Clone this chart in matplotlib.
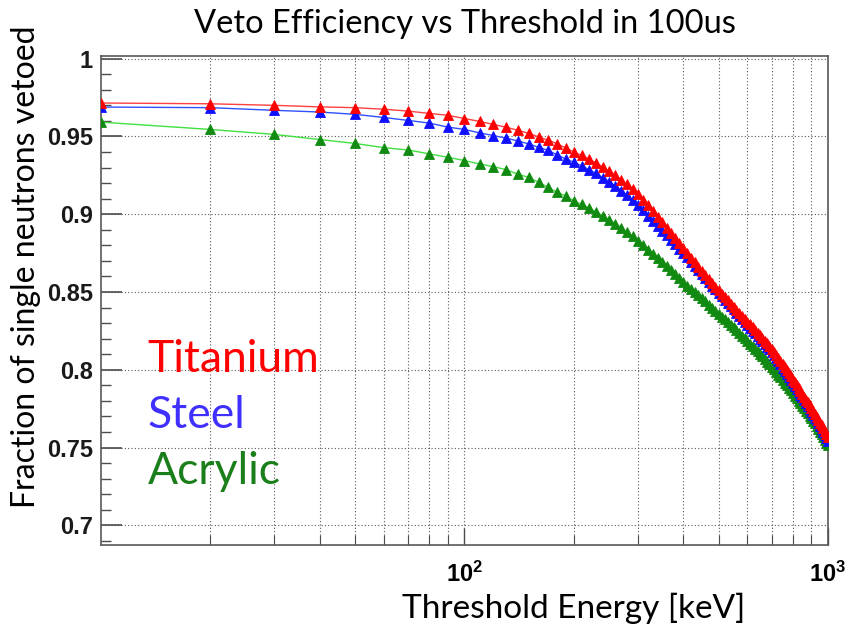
import matplotlib
matplotlib.use("Agg")
import matplotlib.pyplot as plt
from matplotlib.ticker import FixedLocator, MultipleLocator, NullFormatter, LogLocator

plt.rcParams["mathtext.fontset"] = "custom"
plt.rcParams["mathtext.bf"] = "Liberation Sans:bold"
plt.rcParams["mathtext.rm"] = "Liberation Sans:bold"

# threshold scan points [keV]
threshold_kev = list(range(10, 1001, 10))

# fraction of single neutrons vetoed within 100 us, per vessel material
titanium = [
    0.9715, 0.9710, 0.9700, 0.9690, 0.9685, 0.9675, 0.9663, 0.9648, 0.9636, 0.9615,
    0.9597, 0.9577, 0.9560, 0.9540, 0.9520, 0.9497, 0.9475, 0.9453, 0.9425, 0.9400,
    0.9378, 0.9355, 0.9330, 0.9305, 0.9278, 0.9250, 0.9222, 0.9193, 0.9162, 0.9128,
    0.9093, 0.9057, 0.9020, 0.8984, 0.8948, 0.8913, 0.8879, 0.8845, 0.8812, 0.8780,
    0.8749, 0.8719, 0.8690, 0.8662, 0.8635, 0.8609, 0.8583, 0.8558, 0.8534, 0.8510,
    0.8488, 0.8467, 0.8446, 0.8425, 0.8405, 0.8385, 0.8366, 0.8347, 0.8328, 0.8310,
    0.8292, 0.8274, 0.8256, 0.8238, 0.8221, 0.8203, 0.8186, 0.8169, 0.8152, 0.8136,
    0.8116, 0.8096, 0.8076, 0.8056, 0.8036, 0.8016, 0.7996, 0.7977, 0.7957, 0.7937,
    0.7919, 0.7900, 0.7882, 0.7863, 0.7845, 0.7827, 0.7808, 0.7790, 0.7771, 0.7753,
    0.7735, 0.7716, 0.7698, 0.7680, 0.7661, 0.7643, 0.7624, 0.7606, 0.7587, 0.7569,
]
steel = [
    0.9689, 0.9685, 0.9668, 0.9657, 0.9642, 0.9622, 0.9603, 0.9586, 0.9560, 0.9545,
    0.9523, 0.9506, 0.9489, 0.9472, 0.9452, 0.9430, 0.9410, 0.9381, 0.9355, 0.9334,
    0.9311, 0.9287, 0.9262, 0.9236, 0.9209, 0.9181, 0.9152, 0.9122, 0.9091, 0.9060,
    0.9025, 0.8991, 0.8958, 0.8926, 0.8895, 0.8865, 0.8835, 0.8806, 0.8778, 0.8750,
    0.8722, 0.8695, 0.8668, 0.8641, 0.8615, 0.8590, 0.8565, 0.8541, 0.8517, 0.8493,
    0.8472, 0.8451, 0.8430, 0.8409, 0.8388, 0.8368, 0.8347, 0.8326, 0.8306, 0.8285,
    0.8268, 0.8251, 0.8234, 0.8217, 0.8200, 0.8183, 0.8165, 0.8148, 0.8131, 0.8114,
    0.8094, 0.8074, 0.8054, 0.8034, 0.8014, 0.7994, 0.7974, 0.7955, 0.7935, 0.7915,
    0.7897, 0.7878, 0.7860, 0.7841, 0.7823, 0.7804, 0.7786, 0.7767, 0.7749, 0.7730,
    0.7712, 0.7693, 0.7675, 0.7656, 0.7638, 0.7619, 0.7601, 0.7582, 0.7564, 0.7545,
]
acrylic = [
    0.9592, 0.9545, 0.9513, 0.9480, 0.9455, 0.9428, 0.9413, 0.9388, 0.9366, 0.9345,
    0.9323, 0.9306, 0.9287, 0.9258, 0.9237, 0.9205, 0.9172, 0.9140, 0.9118, 0.9086,
    0.9063, 0.9040, 0.9016, 0.8991, 0.8966, 0.8940, 0.8913, 0.8886, 0.8858, 0.8830,
    0.8801, 0.8773, 0.8745, 0.8718, 0.8691, 0.8665, 0.8639, 0.8613, 0.8587, 0.8562,
    0.8541, 0.8520, 0.8499, 0.8479, 0.8459, 0.8439, 0.8419, 0.8399, 0.8380, 0.8360,
    0.8342, 0.8324, 0.8307, 0.8289, 0.8272, 0.8254, 0.8237, 0.8220, 0.8202, 0.8185,
    0.8168, 0.8152, 0.8135, 0.8119, 0.8102, 0.8086, 0.8069, 0.8053, 0.8036, 0.8020,
    0.8003, 0.7986, 0.7969, 0.7952, 0.7935, 0.7918, 0.7901, 0.7884, 0.7867, 0.7850,
    0.7834, 0.7818, 0.7802, 0.7786, 0.7770, 0.7754, 0.7738, 0.7722, 0.7706, 0.7690,
    0.7672, 0.7655, 0.7637, 0.7620, 0.7602, 0.7585, 0.7567, 0.7550, 0.7532, 0.7515,
]

materials = ["Titanium", "Steel", "Acrylic"]
line_colors = ["#ff4040", "#3050ff", "#40e040"]
marker_colors = ["#ff0000", "#1010ff", "#108a10"]
label_colors = ["#ff0000", "#4030ff", "#1a7f1a"]

y_ticks = [0.7, 0.75, 0.8, 0.85, 0.9, 0.95, 1.0]
y_tick_labels = ["0.7", "0.75", "0.8", "0.85", "0.9", "0.95", "1"]

fig = plt.figure(figsize=(8.46, 6.26), dpi=100)
ax = fig.add_axes([0.1194, 0.129, 0.8593, 0.781])

# draw acrylic first so the metals sit on top, as in the overlap region
for name, series, lc, mc in reversed(list(zip(materials, [titanium, steel, acrylic], line_colors, marker_colors))):
    ax.plot(threshold_kev, series, color=lc, lw=1.0, zorder=2)
    ax.plot(threshold_kev, series, ls="none", marker="^", ms=7,
            mfc=mc, mec=mc, mew=0.6, zorder=3)

ax.set_xscale("log")
ax.set_xlim(10, 1000)
ax.set_ylim(0.6872, 1.0015)

ax.xaxis.set_major_locator(FixedLocator([100, 1000]))
ax.set_xticks([100, 1000], [r"$\mathbf{10^{2}}$", r"$\mathbf{10^{3}}$"])
ax.xaxis.set_minor_locator(LogLocator(base=10, subs=range(2, 10)))
ax.xaxis.set_minor_formatter(NullFormatter())
ax.set_yticks(y_ticks, y_tick_labels)
ax.yaxis.set_minor_locator(MultipleLocator(0.01))

ax.tick_params(which="both", direction="in", top=False, right=False, color="0.3")
ax.tick_params(axis="x", which="major", length=12, width=1.0, labelsize=17, pad=12)
ax.tick_params(axis="x", which="minor", length=7, width=0.8)
ax.tick_params(axis="y", which="major", length=15, width=1.2, pad=6)
ax.tick_params(axis="y", which="minor", length=7, width=1.0)
for lab in ax.get_yticklabels():
    lab.set_fontfamily("Liberation Sans")
    lab.set_fontweight("bold")
    lab.set_fontsize(17)
    lab.set_color("#1a1a1a")

ax.grid(True, axis="x", which="both", ls=(0, (1, 2)), color="0.35", lw=0.8)
ax.grid(True, axis="y", which="major", ls=(0, (1, 2)), color="0.35", lw=0.8)

for side in ax.spines.values():
    side.set_color("0.35")
    side.set_linewidth(1.2)

ax.set_title("Veto Efficiency vs Threshold in 100us", family="Lato", fontsize=23.5, pad=17)
ax.set_xlabel("Threshold Energy [keV]", family="Lato", fontsize=24, labelpad=4, x=0.65)
ax.set_ylabel("Fraction of single neutrons vetoed", family="Lato", fontsize=23, labelpad=4, y=0.57)

for i, (name, col) in enumerate(zip(materials, label_colors)):
    ax.text(0.064, 0.38 - i * 0.115, name, transform=ax.transAxes, color=col,
            family="Lato", fontsize=32, va="center", ha="left")

fig.savefig("out.png", dpi=100)
